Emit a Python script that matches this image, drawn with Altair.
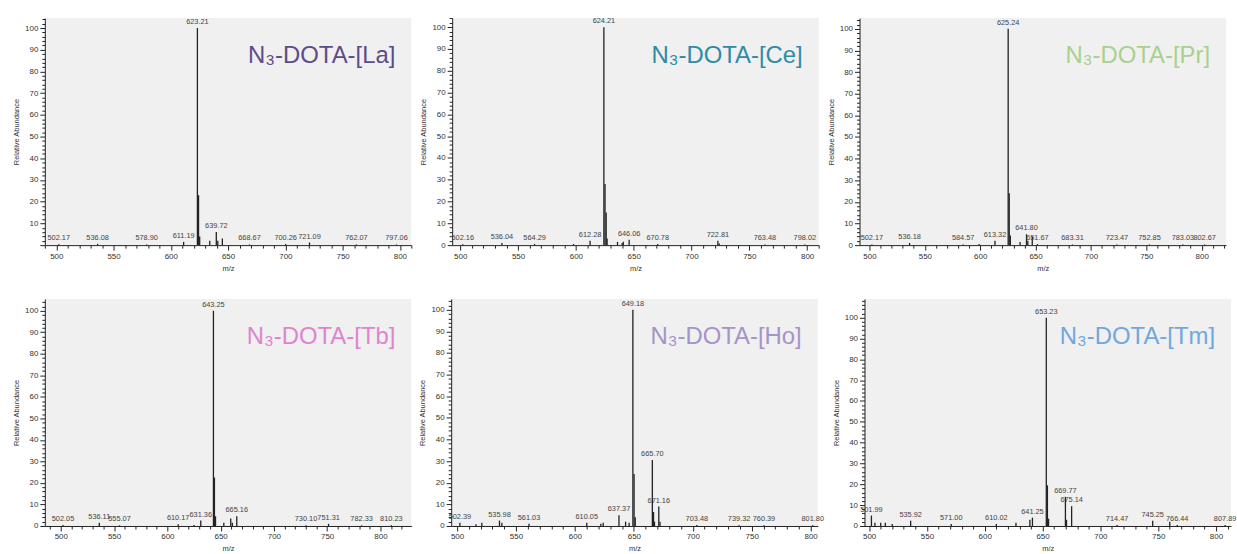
import altair as alt
import pandas as pd

TITLES = ["N\u2083-DOTA-[La]", "N\u2083-DOTA-[Ce]", "N\u2083-DOTA-[Pr]",
          "N\u2083-DOTA-[Tb]", "N\u2083-DOTA-[Ho]", "N\u2083-DOTA-[Tm]"]
TITLE_COLORS = ["#5f4b8b", "#2f8aa8", "#a9d18e", "#e083cf", "#a593c9", "#6fa8dc"]
X_DOMAINS = [[490, 810], [493, 810], [491, 822], [485, 829], [495, 806], [496, 813]]
Y_TOPS = [104.6, 104.2, 105.0, 105.5, 105.0, 109.0]

LA_MZ = [502.17, 536.08, 578.90, 611.19, 623.21, 624.21, 625.20, 634.0, 639.72, 641.0, 645.0, 668.67, 700.26, 721.09, 762.07, 797.06]
LA_AB = [0.4, 0.6, 0.3, 1.5, 100, 23, 4, 2, 6, 2, 3, 0.3, 0.5, 1.2, 0.3, 0.3]
LA_LABELS = [502.17, 536.08, 578.90, 611.19, 623.21, 639.72, 668.67, 700.26, 721.09, 762.07, 797.06]

CE_MZ = [502.16, 536.04, 564.29, 598.0, 612.28, 624.21, 625.20, 626.20, 627.0, 636.0, 640.0, 641.0, 646.06, 670.78, 722.81, 724.0, 763.48, 798.02]
CE_AB = [0.4, 1.0, 0.5, 0.5, 2, 100, 28, 15, 3, 1.5, 1.0, 1.5, 2.5, 0.5, 2, 0.8, 0.3, 0.3]
CE_LABELS = [502.16, 536.04, 564.29, 612.28, 624.21, 646.06, 670.78, 722.81, 763.48, 798.02]

PR_MZ = [502.17, 536.18, 584.57, 599.0, 613.32, 625.24, 626.20, 627.20, 636.0, 641.80, 643.0, 647.0, 651.67, 683.31, 723.47, 752.85, 783.03, 802.67]
PR_AB = [0.3, 1.0, 0.3, 0.5, 2, 100, 24, 4.5, 1.5, 5, 2, 4, 0.5, 0.3, 0.3, 0.3, 0.3, 0.3]
PR_LABELS = [502.17, 536.18, 584.57, 613.32, 625.24, 641.80, 651.67, 683.31, 723.47, 752.85, 783.03, 802.67]

TB_MZ = [502.05, 536.11, 555.07, 610.17, 625.0, 631.36, 643.25, 644.20, 645.20, 653.0, 659.5, 661.0, 665.16, 730.10, 751.31, 782.33, 810.23]
TB_AB = [0.5, 1.5, 0.3, 0.8, 0.5, 2.5, 100, 22.5, 4.5, 1.5, 3.5, 1.5, 4.5, 0.3, 1.0, 0.3, 0.3]
TB_LABELS = [502.05, 536.11, 555.07, 610.17, 631.36, 643.25, 665.16, 730.10, 751.31, 782.33, 810.23]

HO_MZ = [502.39, 516.0, 521.0, 535.98, 538.0, 561.03, 610.05, 622.0, 624.0, 637.37, 643.0, 646.0, 649.18, 650.20, 651.20, 665.70, 666.70, 667.50, 671.16, 672.20, 703.48, 739.32, 760.39, 801.80]
HO_AB = [1.5, 0.8, 1.5, 2.5, 1.5, 1.0, 1.5, 1.0, 1.5, 5, 2, 1.5, 100, 24, 4, 30.5, 6.5, 2, 9, 2, 0.5, 0.3, 0.3, 0.3]
HO_LABELS = [502.39, 535.98, 561.03, 610.05, 637.37, 649.18, 665.70, 671.16, 703.48, 739.32, 760.39, 801.80]

TM_MZ = [501.99, 505.0, 510.0, 514.0, 520.0, 535.92, 571.00, 610.02, 627.0, 639.0, 641.25, 653.23, 654.20, 655.20, 669.77, 670.70, 675.14, 714.47, 745.25, 760.0, 766.44, 807.89]
TM_AB = [5, 1.5, 1.5, 1.5, 1.0, 2.5, 1.0, 1.0, 1.5, 3, 4, 100, 19.5, 3.5, 14, 3, 9.5, 0.5, 2.5, 2, 0.5, 0.5]
TM_LABELS = [501.99, 535.92, 571.00, 610.02, 641.25, 653.23, 669.77, 675.14, 714.47, 745.25, 766.44, 807.89]

PANELS = [(LA_MZ, LA_AB, LA_LABELS), (CE_MZ, CE_AB, CE_LABELS), (PR_MZ, PR_AB, PR_LABELS),
          (TB_MZ, TB_AB, TB_LABELS), (HO_MZ, HO_AB, HO_LABELS), (TM_MZ, TM_AB, TM_LABELS)]

FONT = "Liberation Sans"
W = 368
H = 228


def panel(i):
    mz, ab, labels = PANELS[i]
    df = pd.DataFrame({"mz": mz, "ab": ab})
    lab = df[df["mz"].isin(labels)].copy()
    lab["txt"] = lab["mz"].map(lambda v: f"{v:.2f}")
    x0, x1 = X_DOMAINS[i]
    ytop = Y_TOPS[i]
    xvals = [v for v in range(480, 840, 10) if x0 <= v <= x1]
    yvals = [v for v in range(0, 110, 2) if v <= ytop]
    ylab = "datum.value % 10 === 0 ? datum.label : ''"
    if i == 0:
        ylab = "datum.value % 10 === 0 && datum.value > 0 ? datum.label : ''"
    xs = alt.X("mz:Q", scale=alt.Scale(domain=[x0, x1], nice=False, zero=False),
               axis=alt.Axis(title="m/z", values=xvals, labelOverlap=False,
                             labelExpr="datum.value % 50 === 0 ? datum.label : ''",
                             tickSize={"condition": {"test": "datum.value % 50 === 0", "value": 5}, "value": 3},
                             labelFlush=False))
    ys = alt.Y("ab:Q", scale=alt.Scale(domain=[0, ytop], nice=False),
               axis=alt.Axis(title="Relative Abundance", values=yvals, labelExpr=ylab, labelOverlap=False,
                             tickSize={"condition": {"test": "datum.value % 10 === 0", "value": 5}, "value": 3}))
    bars = alt.Chart(df).mark_rule(color="#222222", strokeWidth=1.3).encode(x=xs, y=ys, y2=alt.datum(0))
    texts = alt.Chart(lab).mark_text(font=FONT, fontSize=7.4, color="#444444", baseline="bottom", dy=-2).encode(
        x=xs, y=ys, text="txt:N")
    tdf = pd.DataFrame({"t": [TITLES[i]]})
    title = alt.Chart(tdf).mark_text(font=FONT, fontSize=24, color=TITLE_COLORS[i], align="right",
                                     baseline="alphabetic").encode(
        x=alt.value(W - 16), y=alt.value(45), text="t:N")
    return alt.layer(bars, texts, title).properties(width=W, height=H)


row1 = alt.hconcat(panel(0), panel(1), panel(2), spacing=7)
row2 = alt.hconcat(panel(3), panel(4), panel(5), spacing=7)
chart = alt.vconcat(row1, row2, spacing=25).properties(
    padding={"left": 12, "top": 13, "right": 0, "bottom": 0}, background="white"
).configure_view(fill="#f0f0f0", strokeWidth=0).configure_axis(
    domainColor="#222222", tickColor="#222222", labelColor="#333333", labelFont=FONT,
    labelFontSize=8, titleFont=FONT, titleFontSize=7.5, titleFontWeight="normal",
    titleColor="#333333", labelPadding=2, titlePadding=4, grid=False
)

chart.save("out.html", embed_options={"renderer": "svg", "actions": False})
